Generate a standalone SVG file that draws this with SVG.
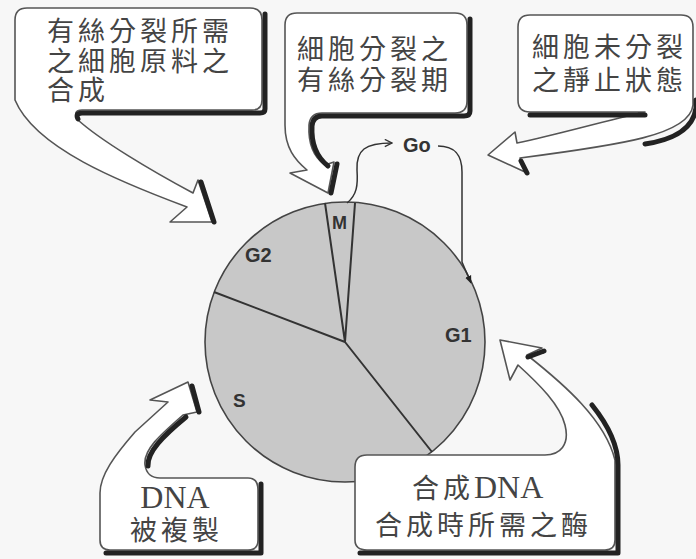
<svg xmlns="http://www.w3.org/2000/svg" width="696" height="559" viewBox="0 0 696 559">
<defs>
<style>
.bg{fill:#f7f7f7}
.callout{fill:#ffffff;stroke:#555;stroke-width:1.6;stroke-linejoin:round}
.shadow{fill:none;stroke:#222;stroke-width:5;stroke-linecap:round;stroke-linejoin:round}
.zh{font-family:"Noto Sans CJK TC","Noto Sans CJK SC",sans-serif;font-size:27px;fill:#444;letter-spacing:4px}
.ser{font-family:"Liberation Serif",serif;fill:#444}
.lbl{font-family:"Liberation Sans",Arial,sans-serif;font-weight:bold;fill:#333}
.pie{fill:#c8c8c8;stroke:#444;stroke-width:1.6}
.div{stroke:#333;stroke-width:2;fill:none}
.conn{fill:none;stroke:#333;stroke-width:1.5}
</style>
<marker id="open" viewBox="0 0 10 10" refX="9" refY="5" markerWidth="9" markerHeight="9" markerUnits="userSpaceOnUse" orient="auto">
<path d="M1 1 L9 5 L1 9" fill="none" stroke="#333" stroke-width="1.5"/>
</marker>
<marker id="solid" viewBox="0 0 10 10" refX="9" refY="5" markerWidth="8" markerHeight="8" markerUnits="userSpaceOnUse" orient="auto">
<path d="M0 1 L10 5 L0 9 Z" fill="#222"/>
</marker>
</defs>
<rect class="bg" x="0" y="0" width="696" height="559"/>

<g id="cycle">
<circle class="pie" cx="345" cy="342" r="140"/>
<path class="div" d="M345 342 L325 203 M345 342 L355 203 M345 342 L214 292 M345 342 L432 452"/>
</g>
<g id="label-M"><text class="lbl" x="332" y="229" font-size="18">M</text></g>
<g id="label-G2"><text class="lbl" x="245" y="262" font-size="20">G2</text></g>
<g id="label-G1"><text class="lbl" x="445" y="342" font-size="20">G1</text></g>
<g id="label-S"><text class="lbl" x="233" y="407" font-size="19">S</text></g>
<g id="label-Go"><text class="lbl" x="403" y="152" font-size="20">Go</text></g>

<g id="connectors">
<path class="conn" d="M347 203 C357 195 358 185 357 170 C356 150 365 143 392 143" marker-end="url(#open)"/>
<path class="conn" d="M438 146 C456 146 462 156 462 172 L462 262 L471 283" marker-end="url(#solid)"/>
</g>

<g id="callout-top-left">
<path class="callout" d="M15 20 Q15 8 27 8 L250 8 Q262 8 262 20 L262 100 Q262 110 252 110 L82 110 Q72 110 78 120 C100 140 150 170 193 193 L198 180 L212 222 L170 222 L187 207 C120 182 35 148 15 100 Z"/>
<path class="shadow" d="M265 14 L265 109 Q265 113 260 113 L82 113 Q75 113 78 119"/>
<path class="shadow" d="M201 182 L214 222" stroke-width="4"/>
<text class="zh" x="47" y="41">有絲分裂所需</text>
<text class="zh" x="47" y="71">之細胞原料之</text>
<text class="zh" x="47" y="100">合成</text>
</g>

<g id="callout-top-middle">
<path class="callout" d="M285 25 Q285 13 297 13 L455 13 Q467 13 467 25 L467 101 Q467 113 455 113 L322 113 Q310 113 309 125 C308 145 315 158 325 165 L334 162 L328 193 L290 173 L307 170 C295 160 285 148 285 125 Z"/>
<path class="shadow" d="M470 19 L470 111 Q470 116 464 116 L322 116 Q313 116 312 126 C311 145 318 158 328 166"/>
<path class="shadow" d="M337 164 L331 193" stroke-width="4"/>
<text class="zh" x="297" y="59" font-size="28">細胞分裂之</text>
<text class="zh" x="297" y="90" font-size="28">有絲分裂期</text>
</g>

<g id="callout-top-right">
<path class="callout" d="M518 27 Q518 15 530 15 L681 15 Q693 15 693 27 L693 105 C690 135 620 145 520 158 L525 172 L488 155 L515 132 L517 143 C560 134 600 122 645 112 L530 112 Q518 112 518 100 Z"/>
<path class="shadow" d="M530 115 L645 115"/>
<path class="shadow" d="M696 100 L696 108 C693 130 672 140 645 144"/>
<path class="shadow" d="M521 161 L527 173" stroke-width="4"/>
<text class="zh" x="532" y="57">細胞未分裂</text>
<text class="zh" x="532" y="90">之靜止狀態</text>
</g>

<g id="callout-bottom-left">
<path class="callout" d="M100 540 L100 493 C100 475 115 455 135 432 L168 402 L150 400 L188 382 L197 412 L183 415 C160 435 143 450 145 465 Q147 478 160 478 L248 478 Q258 478 258 490 L258 540 Q258 550 248 550 L110 550 Q100 550 100 540 Z"/>
<path class="shadow" d="M261 484 L261 553 L106 553"/>
<path class="shadow" d="M186 417 C163 436 147 452 148 466"/>
<path class="shadow" d="M192 386 L199 412" stroke-width="4"/>
<text class="ser" x="175" y="508" font-size="32" text-anchor="middle">DNA</text>
<text class="zh" x="130" y="540" font-size="28" letter-spacing="2">被複製</text>
</g>

<g id="callout-bottom-right">
<path class="callout" d="M355 467 Q355 455 367 455 L545 455 C560 455 570 445 565 425 C560 405 540 385 518 365 L510 380 L500 340 L542 348 L527 355 C565 385 605 420 615 460 L615 540 Q615 550 605 550 L367 550 Q355 550 355 540 Z"/>
<path class="shadow" d="M592 405 C608 425 618 445 618 465 L618 553 L360 553"/>
<path class="shadow" d="M528 357 L544 351" stroke-width="4"/>
<text class="zh" x="412" y="498" font-size="28">合成<tspan class="ser" font-size="32" letter-spacing="0">DNA</tspan></text>
<text class="zh" x="375" y="535" font-size="28" letter-spacing="3">合成時所需之酶</text>
</g>
</svg>
